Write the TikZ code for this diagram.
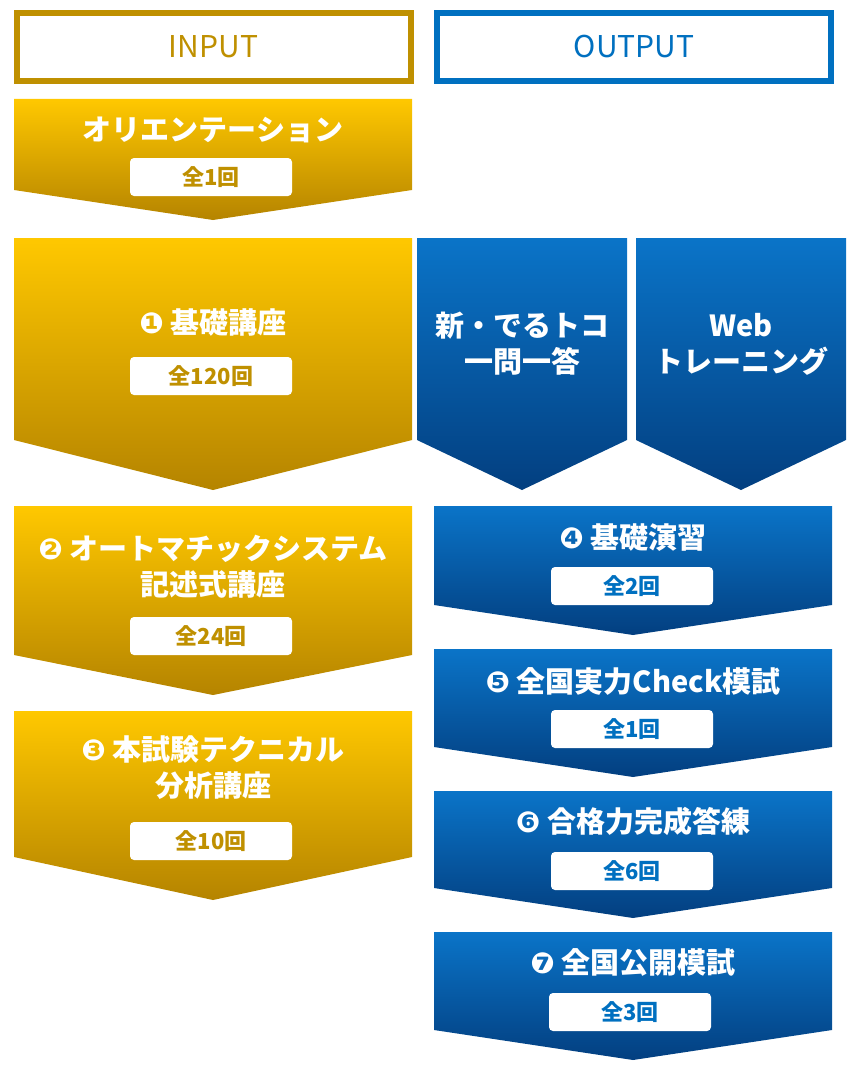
\documentclass[tikz,border=0pt]{standalone}
\usepackage{fontspec}
\setmainfont{Noto Sans CJK JP}
\newfontfamily\dv{DejaVu Sans}
\definecolor{gold}{HTML}{BF9000}
\definecolor{goldT}{HTML}{FFC800}
\definecolor{goldB}{HTML}{B58400}
\definecolor{blu}{HTML}{0070C0}
\definecolor{bluT}{HTML}{0A74C8}
\definecolor{bluB}{HTML}{033F80}
\tikzset{x=1pt,y=-1pt,
 ttl/.style={text=white,font=\bfseries\fontsize{29}{36}\selectfont,align=center,inner sep=0},
 sub/.style={fill=white,rounded corners=4pt,minimum width=162pt,minimum height=38pt,inner sep=0,font=\bfseries\fontsize{22}{24}\selectfont},
 subg/.style={sub,text=gold},
 subb/.style={sub,text=blu},
 hdr/.style={draw,line width=6pt,fill=white,minimum width=394pt,minimum height=68pt,font=\fontsize{30}{32}\selectfont}}
\newcommand{\garr}[4]{\shade[top color=goldT,bottom color=goldB] (#1,#2) -- (#1+398,#2) -- (#1+398,#3) -- (#1+199,#4) -- (#1,#3) -- cycle;}
\newcommand{\barr}[5]{\shade[top color=bluT,bottom color=bluB] (#1,#2) -- (#1+#5,#2) -- (#1+#5,#3) -- (#1+#5/2,#4) -- (#1,#3) -- cycle;}
\begin{document}
\begin{tikzpicture}
\useasboundingbox (0,0) rectangle (866,1070);
\node[hdr,draw=gold,text=gold] (hin) at (213.5,47) {INPUT};
\node[hdr,draw=blu,text=blu] (hout) at (634,47) {OUTPUT};
\garr{14}{99}{190}{220}
\garr{14}{238}{440}{490}
\garr{14}{506}{655}{695}
\garr{14}{711}{857}{900}
\barr{417}{238}{440}{490}{210}
\barr{636}{238}{440}{490}{210}
\barr{434}{506}{605}{635}{398}
\barr{434}{649}{747}{777}{398}
\barr{434}{791}{888}{918}{398}
\barr{434}{932}{1030}{1060}{398}
\node[ttl] (t0) at (213,130) {オリエンテーション};
\node[subg] (s0) at (211,177) {全1回};
\node[ttl] (t1) at (213,322) {{\dv ❶} 基礎講座};
\node[subg] (s1) at (211,376) {全120回};
\node[ttl] (t2) at (213,567) {{\dv ❷} オートマチックシステム\\記述式講座};
\node[subg] (s2) at (211,636) {全24回};
\node[ttl] (t3) at (213,768) {{\dv ❸} 本試験テクニカル\\分析講座};
\node[subg] (s3) at (211,841) {全10回};
\node[ttl] (n) at (522,344) {新・でるトコ\\一問一答};
\node[ttl] (w) at (741,344) {Web\\トレーニング};
\node[ttl] (t4) at (633,538) {{\dv ❹} 基礎演習};
\node[subb] (s4) at (632,586) {全2回};
\node[ttl] (t5) at (633,681) {{\dv ❺} 全国実力Check模試};
\node[subb] (s5) at (632,729) {全1回};
\node[ttl] (t6) at (633,821) {{\dv ❻} 合格力完成答練};
\node[subb] (s6) at (632,871) {全6回};
\node[ttl] (t7) at (633,962) {{\dv ❼} 全国公開模試};
\node[subb] (s7) at (630,1012) {全3回};
\end{tikzpicture}
\end{document}
